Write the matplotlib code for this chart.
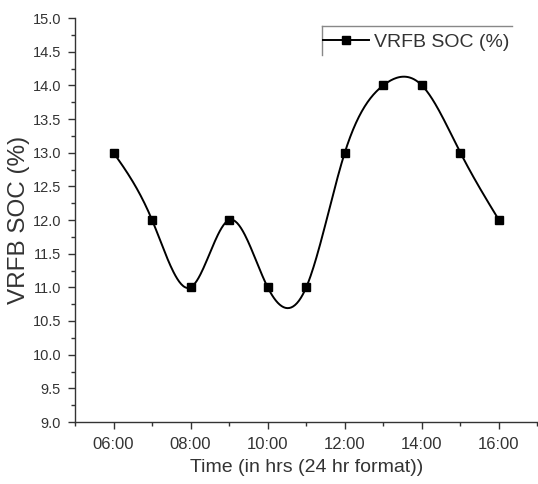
import numpy as np
import matplotlib
matplotlib.use("Agg")
import matplotlib.pyplot as plt
from matplotlib.ticker import MultipleLocator, FormatStrFormatter

hours = [6, 7, 8, 9, 10, 11, 12, 13, 14, 15, 16]
soc = [13, 12, 11, 12, 11, 11, 13, 14, 14, 13, 12]
xtick_vals = [6, 8, 10, 12, 14, 16]
xtick_labels = ["06:00", "08:00", "10:00", "12:00", "14:00", "16:00"]


def natural_spline(x, y, xs):
    x = np.asarray(x, float); y = np.asarray(y, float)
    n = len(x)
    h = np.diff(x)
    A = np.zeros((n, n)); b = np.zeros(n)
    A[0, 0] = 1; A[-1, -1] = 1
    for i in range(1, n - 1):
        A[i, i - 1] = h[i - 1]
        A[i, i] = 2 * (h[i - 1] + h[i])
        A[i, i + 1] = h[i]
        b[i] = 3 * ((y[i + 1] - y[i]) / h[i] - (y[i] - y[i - 1]) / h[i - 1])
    c = np.linalg.solve(A, b)
    out = np.empty_like(xs)
    for k, xv in enumerate(xs):
        i = min(max(np.searchsorted(x, xv) - 1, 0), n - 2)
        dx = xv - x[i]
        bi = (y[i + 1] - y[i]) / h[i] - h[i] * (2 * c[i] + c[i + 1]) / 3
        di = (c[i + 1] - c[i]) / (3 * h[i])
        out[k] = y[i] + bi * dx + c[i] * dx ** 2 + di * dx ** 3
    return out


plt.rcParams['font.family'] = ['Liberation Sans', 'DejaVu Sans']
W, H = 538, 484
fig = plt.figure(figsize=(W / 100, H / 100), dpi=100)
L, R, T, B = 75, 538, 18, 422
ax = fig.add_axes([L / W, 1 - B / H, (R - L) / W - 0.001, (B - T) / H])

xs = np.linspace(hours[0], hours[-1], 400)
ys = natural_spline(hours, soc, xs)
ax.plot(xs, ys, color='black', lw=1.4)
ax.plot(hours, soc, 's', color='black', ms=6, ls='none')
handle, = ax.plot([], [], color='black', lw=1.4, marker='s', ms=6)

ax.set_xlim(5, 17)
ax.set_ylim(9, 15)
ax.set_xticks(xtick_vals)
ax.set_xticklabels(xtick_labels)
ax.xaxis.set_minor_locator(MultipleLocator(1))
ax.yaxis.set_major_locator(MultipleLocator(0.5))
ax.yaxis.set_minor_locator(MultipleLocator(0.25))
ax.yaxis.set_major_formatter(FormatStrFormatter('%.1f'))
for s in ['top', 'right']:
    ax.spines[s].set_visible(False)
for s in ['left', 'bottom']:
    ax.spines[s].set_color('#333333')
    ax.spines[s].set_linewidth(1.0)
ax.tick_params(which='major', direction='out', length=5, width=1, color='#333333',
               labelcolor='#333333', pad=5)
ax.tick_params(axis='x', which='major', labelsize=12, pad=6)
ax.tick_params(axis='y', which='major', labelsize=10.5, pad=5)
ax.tick_params(which='minor', direction='out', length=3, width=1, color='#333333')
ax.set_xlabel("Time (in hrs (24 hr format))", fontsize=14, color='#333333', labelpad=5)
ax.set_ylabel("VRFB SOC (%)", fontsize=17.5, color='#333333', labelpad=1.5)

def fx(px):
    return (px - L) / (R - L)

def fy(py):
    return (B - py) / (B - T)

leg = ax.legend([handle], ["VRFB SOC (%)"], loc='center left',
                bbox_to_anchor=(fx(323), fy(42)),
                fontsize=14, frameon=False, handlelength=2.37, handletextpad=0.25,
                borderaxespad=0, borderpad=0)
for t in leg.get_texts():
    t.set_color('#333333')
# partial frame (top and left lines) around legend
ax.plot([fx(322), fx(513)], [fy(26), fy(26)], transform=ax.transAxes, color='#888888', lw=1, clip_on=False)
ax.plot([fx(322), fx(322)], [fy(55), fy(26)], transform=ax.transAxes, color='#888888', lw=1, clip_on=False)

fig.savefig("out.png", dpi=100)
